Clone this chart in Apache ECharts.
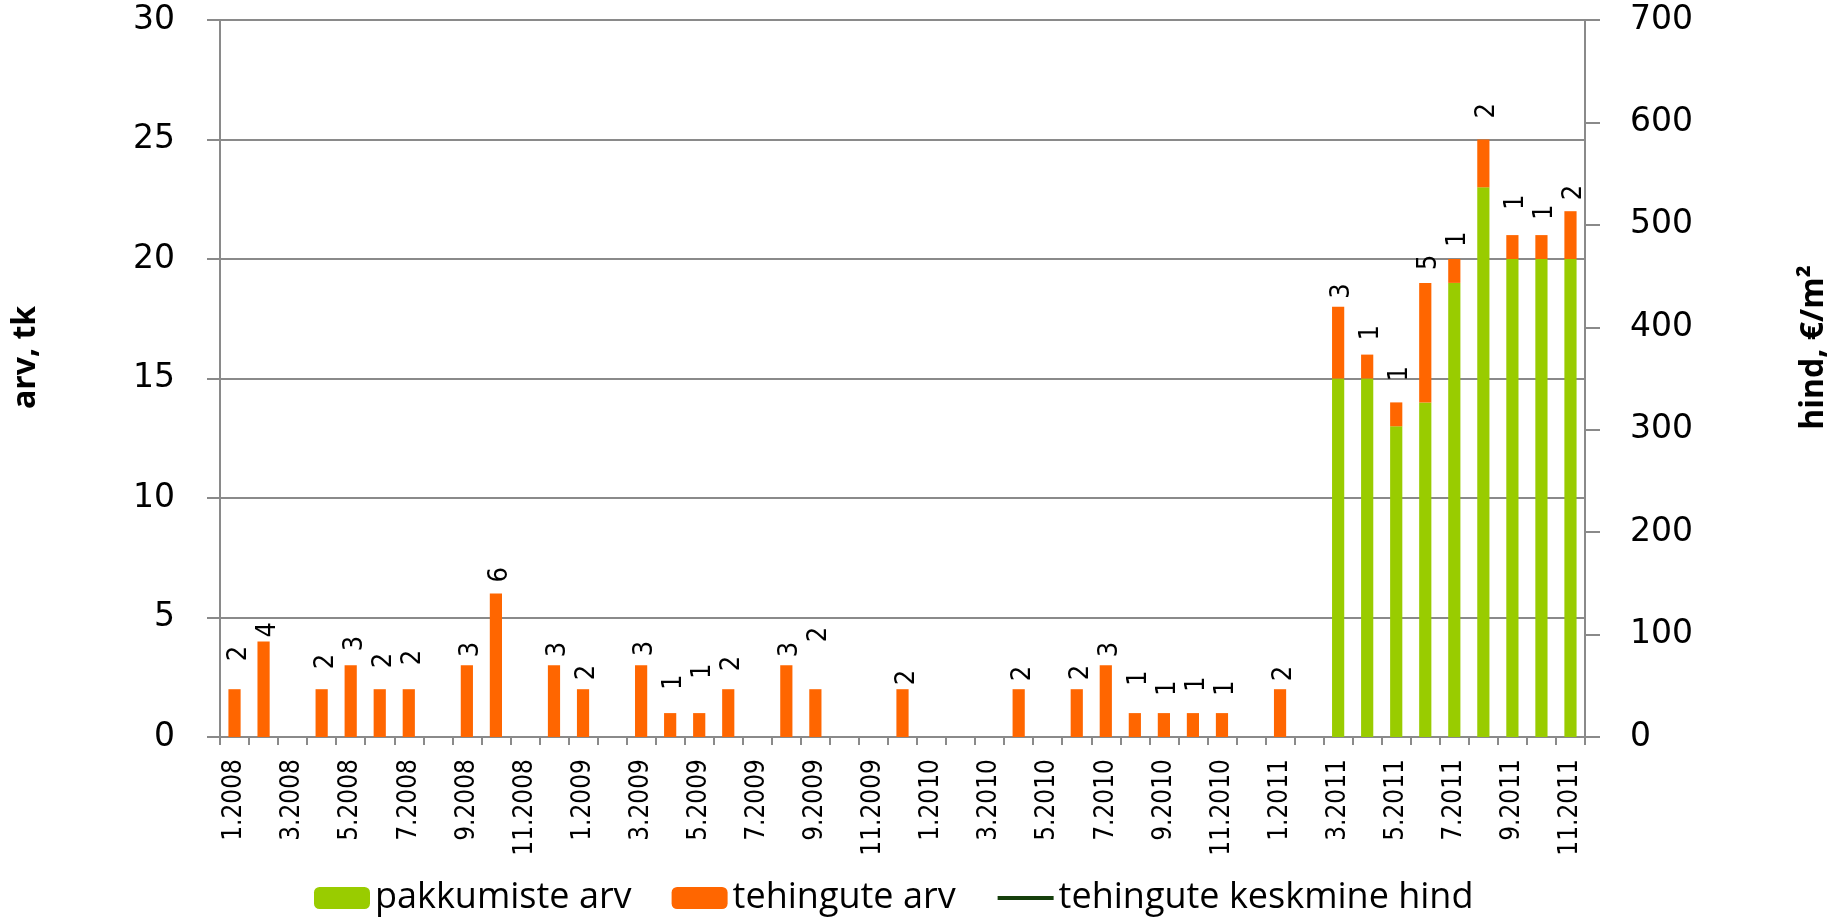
<!DOCTYPE html>
<html>
<head>
<meta charset="utf-8">
<title>pakkumiste ja tehingute arv</title>
<script src="https://cdn.jsdelivr.net/npm/echarts@6/dist/echarts.min.js"></script>
<style>
  html, body { margin: 0; padding: 0; background: #ffffff; }
  #chart { width: 1845px; height: 922px; }
</style>
</head>
<body>
<div id="chart"></div>
<script>
// Months shown on the category axis
const months = [
  '1.2008','2.2008','3.2008','4.2008','5.2008','6.2008','7.2008','8.2008','9.2008','10.2008','11.2008','12.2008',
  '1.2009','2.2009','3.2009','4.2009','5.2009','6.2009','7.2009','8.2009','9.2009','10.2009','11.2009','12.2009',
  '1.2010','2.2010','3.2010','4.2010','5.2010','6.2010','7.2010','8.2010','9.2010','10.2010','11.2010','12.2010',
  '1.2011','2.2011','3.2011','4.2011','5.2011','6.2011','7.2011','8.2011','9.2011','10.2011','11.2011'
];

// Number of offers per month (pakkumiste arv)
const offers = [
  null, null, null, null, null, null, null, null, null, null, null, null,
  null, null, null, null, null, null, null, null, null, null, null, null,
  null, null, null, null, null, null, null, null, null, null, null, null,
  null, null, 15, 15, 13, 14, 19, 23, 20, 20, 20
];

// Number of deals per month (tehingute arv)
const deals = [
  2, 4, null, 2, 3, 2, 2, null, 3, 6, null, 3,
  2, null, 3, 1, 1, 2, null, 3, 2, null, null, 2,
  null, null, null, 2, null, 2, 3, 1, 1, 1, 1, null,
  2, null, 3, 1, 1, 5, 1, 2, 1, 1, 2
];

// Average deal price (tehingute keskmine hind), no points plotted
const avgPrice = [];

// Extra lift of each deal label above its bar, in pixels
const labelLift = [
  25, 1, 0, 17, 11, 18, 21, 0, 5, 8, 0, 5,
  6, 0, 6, 20, 31, 15, 0, 5, 44, 0, 0, 1,
  0, 0, 0, 5, 0, 6, 5, 24, 14, 18, 14, 0,
  5, 0, 5, 11, 18, 10, 9, 18, 22, 12, 8
];

const axisGrey = '#8a8a8a';
const lineGreen = '#163f0c';
const narrowFont = '"Liberation Sans Narrow", "DejaVu Sans Condensed", sans-serif';
const titleStyle = { fontFamily: '"Open Sans", sans-serif', fontWeight: 'bold', fontSize: 32, color: '#000' };

const chart = echarts.init(document.getElementById('chart'), null, { renderer: 'canvas' });

chart.setOption({
  animation: false,
  backgroundColor: '#ffffff',
  grid: { left: 220, right: 260, top: 20, bottom: 185, containLabel: false },
  legend: {
    left: 314,
    top: 879,
    padding: 0,
    itemWidth: 56,
    itemHeight: 22,
    itemGap: 40,
    textStyle: { fontFamily: '"Open Sans", sans-serif', fontSize: 36, color: '#000', lineHeight: 38 },
    data: [
      'pakkumiste arv',
      'tehingute arv',
      { name: 'tehingute keskmine hind', itemStyle: { opacity: 0 }, lineStyle: { width: 4, color: lineGreen } }
    ]
  },
  xAxis: {
    type: 'category',
    data: months,
    boundaryGap: true,
    axisLine: { lineStyle: { color: axisGrey, width: 2 } },
    axisTick: { show: true, interval: 0, length: 8, lineStyle: { color: axisGrey, width: 2 } },
    axisLabel: {
      interval: 1,
      rotate: 90,
      margin: 22,
      color: '#000',
      fontFamily: narrowFont,
      fontSize: 26
    },
    splitLine: { show: false }
  },
  yAxis: [
    {
      type: 'value',
      min: 0, max: 30, interval: 5,
      name: 'arv, tk',
      nameLocation: 'middle',
      nameRotate: 90,
      nameGap: 178,
      nameTextStyle: Object.assign({ padding: [0, 0, 0, 42] }, titleStyle),
      axisLine: { show: true, lineStyle: { color: axisGrey, width: 2 } },
      axisTick: { show: true, inside: false, length: 13, lineStyle: { color: axisGrey, width: 2 } },
      axisLabel: { margin: 45, color: '#000', fontFamily: '"DejaVu Sans", sans-serif', fontSize: 33 },
      splitLine: { show: true, lineStyle: { color: axisGrey, width: 2 } }
    },
    {
      type: 'value',
      position: 'right',
      min: 0, max: 700, interval: 100,
      name: 'hind, €/m²',
      nameLocation: 'middle',
      nameRotate: 90,
      nameGap: 213,
      nameTextStyle: Object.assign({ padding: [0, 0, 0, 62] }, titleStyle),
      axisLine: { show: true, lineStyle: { color: axisGrey, width: 2 } },
      axisTick: { show: true, inside: false, length: 15, lineStyle: { color: axisGrey, width: 2 } },
      axisLabel: { margin: 45, color: '#000', fontFamily: '"DejaVu Sans", sans-serif', fontSize: 33 },
      splitLine: { show: false }
    }
  ],
  series: [
    {
      name: 'pakkumiste arv',
      type: 'bar',
      stack: 'count',
      barWidth: '42%',
      itemStyle: { color: '#99cc00' },
      data: offers
    },
    {
      name: 'tehingute arv',
      type: 'bar',
      stack: 'count',
      barWidth: '42%',
      itemStyle: { color: '#ff6600' },
      label: {
        show: true,
        position: 'top',
        rotate: 90,
        align: 'left',
        verticalAlign: 'middle',
        offset: [0, 4],
        color: '#000',
        fontFamily: narrowFont,
        fontSize: 27
      },
      data: deals.map((v, i) => v == null ? null : {
        value: v,
        label: { distance: 3 + labelLift[i] }
      })
    },
    {
      name: 'tehingute keskmine hind',
      type: 'line',
      yAxisIndex: 1,
      symbol: 'none',
      showSymbol: false,
      lineStyle: { color: lineGreen, width: 4 },
      itemStyle: { color: lineGreen },
      data: avgPrice
    }
  ]
});
</script>
</body>
</html>
